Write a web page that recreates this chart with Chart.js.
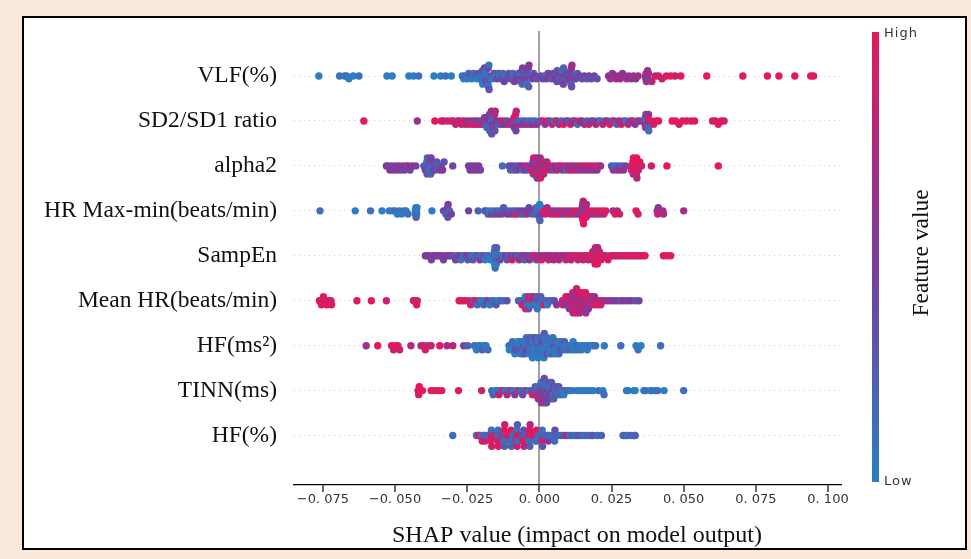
<!DOCTYPE html>
<html><head><meta charset="utf-8">
<script src="https://cdn.jsdelivr.net/npm/chart.js@4.4.1/dist/chart.umd.min.js"></script>
<style>html,body{margin:0;padding:0;background:#fbe9dc;}canvas{display:block;}</style>
</head><body>
<canvas id="c" width="971" height="559"></canvas>
<script>
// ---------- data ----------
const FEATURES = ['VLF(%)','SD2/SD1 ratio','alpha2','HR Max-min(beats/min)','SampEn','Mean HR(beats/min)','HF(ms²)','TINN(ms)','HF(%)'];
const X_TICKS = [-0.075,-0.05,-0.025,0,0.025,0.05,0.075,0.1];
const X_TICK_LABELS = ['\u22120. 075','\u22120. 050','\u22120. 025','0. 000','0. 025','0. 050','0. 075','0. 100'];
const X_TITLE = 'SHAP value (impact on model output)';
const CB_TITLE = 'Feature value';
const CB_HIGH = 'High', CB_LOW = 'Low';

// each point: [SHAP value, feature value level 0 (low) .. 9 (high)]
const VLF_PCT = [[-.0764,0],[-.0692,1],[-.0675,0],[-.0668,1],[-.0660,0],[-.0645,0],[-.0625,1],
[-.0528,0],[-.0510,0],[-.0452,0],[-.0436,0],[-.0418,1],[-.0365,0],[-.0342,0],[-.0325,1],[-.0305,0],
[-.0267,1],[-.0262,0],[-.0256,2],[-.0250,0],[-.0245,1],[-.0240,3],[-.0234,0],[-.0228,1],[-.0222,2],[-.0216,0],[-.0211,3],[-.0206,1],
[-.0200,0],[-.0199,2],[-.0198,1],[-.0197,3],[-.0196,0],[-.0190,4],[-.0189,1],[-.0188,2],[-.0187,0],[-.0186,3],[-.0185,1],
[-.0178,2],[-.0177,4],[-.0176,0],[-.0175,1],[-.0174,3],
[-.0166,2],[-.0162,1],[-.0157,3],[-.0152,0],[-.0147,4],[-.0142,2],[-.0137,1],[-.0132,3],[-.0127,2],[-.0122,4],[-.0117,1],
[-.0112,3],[-.0107,2],[-.0102,4],[-.0097,3],[-.0092,1],[-.0087,4],[-.0082,2],[-.0077,5],[-.0072,3],
[-.0068,2],[-.0067,4],[-.0066,1],[-.0065,3],[-.0060,5],[-.0059,2],[-.0058,4],[-.0052,3],[-.0051,5],[-.0050,2],[-.0049,4],
[-.0044,3],[-.0043,1],[-.0038,4],[-.0037,2],[-.0036,5],[-.0030,3],[-.0025,4],[-.0020,2],[-.0015,5],[-.0010,3],
[.0005,3],[.0012,4],[.0018,2],[.0024,4],[.0030,3],[.0036,5],[.0042,2],[.0048,4],[.0054,3],[.0055,5],[.0060,2],[.0061,4],[.0062,3],
[.0068,5],[.0069,2],[.0075,4],[.0076,3],[.0077,1],[.0083,4],[.0084,2],[.0090,5],[.0091,3],[.0097,4],
[.0105,2],[.0106,5],[.0107,3],[.0108,6],[.0109,4],[.0110,2],[.0111,5],[.0112,3],[.0113,6],
[.0120,3],[.0126,4],[.0132,2],[.0140,4],[.0148,3],[.0156,4],[.0164,2],[.0172,4],[.0180,3],[.0190,4],[.0200,3],
[.0240,5],[.0246,6],[.0253,5],[.0260,6],[.0266,6],[.0273,5],[.0280,6],[.0288,5],[.0295,6],[.0302,6],[.0310,5],[.0318,6],[.0326,6],[.0334,5],[.0342,6],
[.0368,6],[.0369,5],[.0370,7],[.0371,6],[.0375,5],[.0376,6],[.0377,4],[.0378,6],
[.0390,7],[.0402,8],[.0413,8],[.0425,8],[.0440,8],[.0455,9],[.0470,8],[.0490,9],
[.0580,9],[.0705,9],[.0790,9],[.0830,9],[.0885,9],[.0940,9],[.0950,9]];

const SD2_SD1 = [[-.0608,9],[-.0423,6],[-.0362,9],[-.0340,8],[-.0332,9],[-.0318,7],
[-.0305,9],[-.0298,8],[-.0290,7],[-.0283,9],[-.0276,6],[-.0270,8],[-.0263,9],[-.0256,7],[-.0250,5],[-.0243,8],[-.0237,6],[-.0230,9],
[-.0224,4],[-.0218,7],[-.0212,5],[-.0206,8],[-.0200,3],[-.0195,6],
[-.0190,4],[-.0189,7],[-.0184,2],[-.0183,5],[-.0182,1],[-.0177,6],[-.0176,3],[-.0175,5],[-.0174,1],[-.0173,4],[-.0172,2],
[-.0166,6],[-.0165,3],[-.0164,1],[-.0163,5],[-.0162,2],[-.0161,4],[-.0155,6],[-.0154,3],[-.0153,7],
[-.0147,5],[-.0141,2],[-.0135,6],[-.0129,4],[-.0123,8],[-.0117,5],[-.0111,3],[-.0105,7],
[-.0092,9],[-.0091,5],[-.0090,7],[-.0089,3],[-.0088,8],[-.0087,6],[-.0082,9],[-.0081,4],[-.0080,7],
[-.0074,2],[-.0068,6],[-.0062,1],[-.0056,5],[-.0050,3],[-.0044,7],[-.0038,1],[-.0032,4],[-.0026,2],[-.0020,6],[-.0014,1],[-.0008,5],
[.0004,2],[.0012,8],[.0020,5],[.0028,9],[.0036,3],[.0044,7],[.0052,1],[.0060,8],[.0068,6],[.0076,2],[.0084,9],[.0092,5],
[.0100,3],[.0108,8],[.0116,4],[.0124,7],[.0132,1],[.0140,8],[.0148,5],[.0156,6],[.0164,2],[.0172,8],[.0180,5],[.0188,3],
[.0196,7],[.0204,6],[.0212,1],[.0220,8],[.0228,4],[.0236,6],[.0244,9],[.0252,3],[.0260,7],[.0268,2],[.0276,5],[.0284,8],
[.0292,6],[.0300,1],[.0308,7],[.0316,4],[.0324,8],[.0332,5],[.0340,3],[.0348,6],
[.0365,2],[.0366,5],[.0367,1],[.0368,8],[.0369,3],[.0374,1],[.0375,4],[.0376,9],[.0377,2],[.0378,6],[.0379,1],
[.0388,9],[.0396,8],[.0405,9],[.0413,9],
[.0460,9],[.0472,9],[.0484,8],[.0496,9],[.0510,9],[.0525,8],[.0538,9],
[.0600,9],[.0610,8],[.0620,9],[.0630,9],[.0640,8]];

const ALPHA2 = [[-.0530,5],[-.0524,4],[-.0518,5],[-.0512,4],[-.0505,5],[-.0498,4],[-.0492,5],[-.0486,5],[-.0480,4],[-.0473,5],
[-.0467,4],[-.0460,5],[-.0455,5],[-.0448,4],[-.0440,5],[-.0428,4],
[-.0400,3],[-.0396,2],[-.0395,4],[-.0390,1],[-.0389,3],[-.0388,2],[-.0383,4],[-.0382,1],[-.0381,3],[-.0376,2],[-.0375,4],
[-.0374,1],[-.0369,3],[-.0368,5],[-.0362,2],[-.0361,4],[-.0355,3],[-.0350,2],[-.0345,4],[-.0340,3],[-.0335,5],[-.0330,3],
[-.0300,4],[-.0245,4],[-.0240,5],[-.0234,4],[-.0228,5],[-.0222,4],[-.0216,5],[-.0210,5],[-.0204,4],[-.0128,1],
[-.0105,3],[-.0100,2],[-.0094,4],[-.0088,2],[-.0082,3],[-.0076,4],[-.0070,3],
[-.0064,5],[-.0058,2],[-.0052,6],[-.0046,4],[-.0040,7],[-.0034,3],[-.0028,5],[-.0027,8],[-.0022,4],[-.0021,6],[-.0020,9],
[-.0016,5],[-.0015,7],[-.0014,3],[-.0010,8],[-.0009,6],[-.0008,4],[-.0004,9],[-.0003,5],[-.0002,7],[.0002,8],[.0003,6],
[.0004,9],[.0008,5],[.0009,7],[.0014,8],[.0015,6],[.0020,4],[.0021,9],
[.0026,6],[.0032,7],[.0038,5],[.0044,8],[.0050,3],[.0056,6],[.0062,7],[.0068,4],[.0074,8],[.0080,5],[.0086,7],[.0092,2],
[.0098,6],[.0104,7],[.0110,5],[.0116,8],[.0122,6],[.0128,7],[.0134,5],[.0140,6],[.0146,8],[.0152,4],[.0158,7],[.0164,6],
[.0170,8],[.0176,5],[.0182,7],[.0188,6],[.0194,8],[.0200,5],[.0206,7],[.0212,6],
[.0250,2],[.0256,5],[.0262,1],[.0268,6],[.0274,3],[.0280,5],[.0286,2],[.0292,6],[.0298,4],
[.0318,8],[.0319,9],[.0324,9],[.0325,7],[.0326,9],[.0330,8],[.0331,9],[.0332,9],[.0336,8],[.0337,9],[.0338,7],
[.0342,9],[.0343,8],[.0348,9],[.0354,8],[.0388,8],[.0442,9],[.0620,9]];

const HR_MAXMIN = [[-.0760,1],[-.0638,0],[-.0585,1],[-.0545,0],[-.0520,1],[-.0508,0],[-.0500,1],[-.0492,0],[-.0485,1],[-.0477,0],
[-.0470,1],[-.0462,0],[-.0455,1],
[-.0430,0],[-.0429,1],[-.0428,0],[-.0427,2],[-.0426,0],[-.0425,1],[-.0424,0],[-.0372,0],
[-.0332,3],[-.0325,4],[-.0324,2],[-.0318,5],[-.0317,3],[-.0316,4],[-.0311,2],[-.0305,4],[-.0245,4],[-.0212,2],
[-.0190,1],[-.0184,3],[-.0178,2],[-.0172,0],[-.0166,4],[-.0160,1],[-.0154,3],[-.0148,2],[-.0142,5],[-.0136,1],[-.0130,4],
[-.0124,2],[-.0118,3],[-.0112,5],[-.0106,2],[-.0100,4],[-.0094,3],[-.0088,6],[-.0082,2],[-.0078,9],[-.0072,4],[-.0066,3],
[-.0060,5],[-.0054,2],[-.0048,4],[-.0042,6],[-.0036,3],[-.0030,5],[-.0024,2],[-.0018,4],[-.0012,1],[-.0011,3],[-.0006,0],
[-.0005,2],[-.0004,1],[.0000,3],[.0001,0],[.0002,2],[.0006,1],[.0007,4],[.0008,0],
[.0015,9],[.0021,8],[.0027,6],[.0033,9],[.0039,7],[.0045,5],[.0051,8],[.0057,6],[.0063,9],[.0069,5],[.0075,7],[.0081,8],
[.0087,4],[.0093,6],[.0099,9],[.0105,5],[.0111,7],[.0117,8],[.0123,6],[.0129,9],[.0135,5],[.0141,7],
[.0147,4],[.0148,6],[.0149,9],[.0150,5],[.0151,8],[.0152,7],[.0153,9],[.0159,6],[.0160,8],[.0161,4],[.0162,9],[.0163,7],
[.0170,8],[.0176,7],[.0182,9],[.0188,6],[.0194,8],[.0200,7],[.0206,9],[.0212,6],[.0218,8],[.0224,7],[.0230,9],
[.0255,6],[.0262,9],[.0270,7],[.0278,8],[.0335,9],[.0342,8],
[.0408,6],[.0410,8],[.0412,5],[.0428,7],[.0430,6],[.0500,6]];

const SAMPEN = [[-.0395,5],[-.0388,4],[-.0381,5],[-.0374,4],[-.0367,5],[-.0360,4],[-.0353,5],[-.0346,4],[-.0339,5],[-.0332,4],
[-.0325,5],[-.0318,4],[-.0311,5],[-.0304,4],[-.0297,3],
[-.0290,4],[-.0284,2],[-.0278,5],[-.0272,1],[-.0266,3],[-.0260,0],[-.0254,4],[-.0248,2],[-.0242,5],[-.0236,1],[-.0230,3],
[-.0224,0],[-.0218,4],[-.0212,2],[-.0206,5],[-.0200,1],[-.0194,3],[-.0188,0],[-.0182,2],[-.0176,1],[-.0170,0],
[-.0158,2],[-.0157,0],[-.0156,1],[-.0155,0],[-.0154,2],[-.0153,1],[-.0152,0],[-.0151,3],[-.0150,1],[-.0149,0],[-.0148,2],
[-.0142,1],[-.0136,4],[-.0130,2],[-.0124,0],[-.0118,5],[-.0112,3],[-.0106,1],[-.0100,4],
[-.0094,9],[-.0088,3],[-.0082,5],[-.0076,2],[-.0070,6],[-.0064,3],[-.0058,5],[-.0052,2],[-.0046,6],[-.0040,4],[-.0034,5],
[-.0028,3],[-.0022,7],[-.0016,9],[-.0010,4],[-.0004,6],
[.0002,6],[.0008,9],[.0014,5],[.0020,7],[.0026,6],[.0032,8],[.0038,5],[.0044,7],[.0050,6],[.0056,8],[.0062,5],[.0068,7],
[.0074,6],[.0080,8],[.0086,5],[.0092,7],[.0098,6],[.0104,8],[.0110,7],[.0116,9],[.0122,6],[.0128,8],[.0134,7],[.0140,9],
[.0146,7],[.0152,8],[.0158,6],[.0164,9],[.0170,7],[.0176,8],
[.0183,9],[.0184,7],[.0185,8],[.0190,9],[.0191,6],[.0192,8],[.0193,9],[.0194,7],[.0198,9],[.0199,8],[.0200,6],[.0201,9],
[.0202,7],[.0206,8],[.0207,9],[.0208,7],[.0213,9],[.0214,8],
[.0222,9],[.0230,7],[.0238,9],[.0246,8],[.0254,9],[.0262,7],[.0270,9],[.0278,8],[.0286,9],[.0294,7],[.0302,9],[.0310,8],
[.0318,9],[.0326,8],[.0334,9],[.0342,7],[.0350,9],[.0358,8],[.0366,9],
[.0430,8],[.0442,9],[.0455,9]];

const MEAN_HR = [[-.0762,9],[-.0756,8],[-.0755,9],[-.0748,9],[-.0742,8],[-.0736,9],[-.0730,9],[-.0722,8],[-.0720,9],
[-.0632,9],[-.0582,9],[-.0530,8],[-.0436,9],[-.0434,8],[-.0425,9],[-.0423,8],
[-.0278,9],[-.0268,8],[-.0258,9],[-.0245,9],[-.0238,8],[-.0230,2],[-.0222,9],[-.0215,1],[-.0208,3],[-.0200,0],[-.0193,2],
[-.0186,1],[-.0180,4],[-.0172,0],[-.0165,2],[-.0158,1],[-.0150,3],[-.0142,0],[-.0135,2],[-.0125,1],[-.0112,3],
[-.0072,3],[-.0066,1],[-.0060,9],[-.0055,2],[-.0054,8],[-.0049,0],[-.0048,9],[-.0043,2],[-.0042,1],[-.0038,8],[-.0037,3],
[-.0032,9],[-.0031,0],[-.0026,2],[-.0025,8],[-.0020,1],[-.0019,9],[-.0014,3],[-.0013,0],[-.0008,2],[-.0007,1],[-.0002,3],
[.0004,0],[.0005,2],[.0010,1],[.0016,9],[.0022,2],[.0028,0],[.0036,2],[.0044,1],[.0052,3],[.0060,5],
[.0080,6],[.0081,8],[.0090,7],[.0091,5],[.0092,9],
[.0101,8],[.0102,6],[.0103,7],[.0104,5],[.0112,6],[.0113,8],[.0114,5],[.0115,7],[.0116,9],[.0117,6],
[.0123,8],[.0124,7],[.0125,5],[.0126,8],[.0127,6],[.0128,9],[.0129,7],[.0134,7],[.0135,5],[.0136,8],[.0137,6],[.0138,9],[.0139,7],
[.0145,6],[.0146,8],[.0147,5],[.0148,7],[.0149,9],[.0156,6],[.0157,8],[.0158,7],[.0159,5],[.0160,9],[.0161,6],
[.0167,7],[.0168,6],[.0169,8],[.0170,5],[.0178,8],[.0179,6],[.0180,7],[.0189,5],[.0190,8],[.0191,6],
[.0200,7],[.0201,9],[.0212,6],[.0213,8],[.0224,7],
[.0235,5],[.0246,6],[.0257,4],[.0268,5],[.0280,3],[.0292,5],[.0305,4],[.0318,5],[.0332,3],[.0345,4]];

const HF_MS2 = [[-.0600,6],[-.0560,9],[-.0512,9],[-.0505,8],[-.0498,9],[-.0490,9],[-.0484,8],
[-.0445,7],[-.0410,6],[-.0400,8],[-.0395,9],[-.0385,7],[-.0375,8],[-.0345,9],[-.0320,6],[-.0300,7],[-.0262,4],[-.0248,2],
[-.0225,1],[-.0218,0],[-.0212,1],[-.0205,0],[-.0198,2],[-.0192,1],[-.0185,0],[-.0178,1],
[-.0105,1],[-.0104,0],[-.0095,2],[-.0094,0],[-.0093,1],[-.0085,0],[-.0084,1],[-.0083,3],
[-.0075,0],[-.0074,1],[-.0073,2],[-.0072,0],[-.0065,1],[-.0064,0],[-.0063,2],[-.0062,1],
[-.0055,0],[-.0054,3],[-.0053,1],[-.0052,0],[-.0051,2],[-.0045,1],[-.0044,0],[-.0043,4],[-.0042,1],
[-.0035,0],[-.0034,2],[-.0033,1],[-.0032,0],[-.0031,3],[-.0030,1],
[-.0025,1],[-.0024,0],[-.0023,2],[-.0022,1],[-.0021,0],[-.0015,0],[-.0014,4],[-.0013,1],[-.0012,0],[-.0011,2],[-.0010,1],
[-.0005,1],[-.0004,0],[-.0003,3],[-.0002,1],[-.0001,0],[.0005,0],[.0006,2],[.0007,1],[.0008,0],[.0009,4],[.0010,1],
[.0015,1],[.0016,0],[.0017,2],[.0018,1],[.0019,0],[.0025,0],[.0026,3],[.0027,1],[.0028,0],
[.0035,2],[.0036,1],[.0037,0],[.0038,1],[.0039,0],[.0045,0],[.0046,2],[.0047,1],[.0048,3],
[.0055,0],[.0056,1],[.0057,0],[.0065,2],[.0066,1],[.0067,0],[.0068,1],[.0075,0],[.0076,3],[.0077,1],[.0085,0],[.0086,1],[.0087,2],
[.0095,0],[.0096,1],[.0105,1],[.0106,2],[.0115,0],[.0116,1],[.0117,0],
[.0125,1],[.0126,0],[.0135,2],[.0136,1],[.0145,0],[.0146,1],[.0155,0],[.0165,1],[.0166,0],[.0175,1],[.0185,0],[.0195,1],
[.0225,0],[.0282,1],[.0335,0],[.0342,1],[.0352,0],[.0420,1]];

const TINN_MS = [[-.0420,9],[-.0418,8],[-.0416,9],[-.0414,9],[-.0405,9],[-.0375,9],[-.0362,8],[-.0350,9],[-.0338,9],
[-.0280,9],[-.0200,8],
[-.0165,1],[-.0160,2],[-.0152,0],[-.0145,1],[-.0140,8],[-.0132,2],[-.0125,9],[-.0118,1],[-.0112,6],[-.0105,2],[-.0098,8],
[-.0092,1],[-.0085,5],[-.0078,2],[-.0070,9],[-.0064,1],[-.0058,3],[-.0050,2],[-.0044,7],[-.0038,1],
[-.0025,3],[-.0024,9],[-.0016,2],[-.0015,7],[-.0014,3],[-.0007,2],[-.0006,8],[-.0005,1],[-.0004,4],
[.0002,3],[.0003,5],[.0004,2],[.0005,8],[.0006,1],[.0007,4],[.0011,6],[.0012,3],[.0013,2],[.0014,5],[.0015,1],[.0016,7],[.0017,4],
[.0020,3],[.0021,4],[.0022,2],[.0023,6],[.0024,1],[.0025,3],[.0029,5],[.0030,2],[.0031,1],[.0032,4],[.0033,3],
[.0038,2],[.0039,6],[.0040,1],[.0041,3],[.0042,2],[.0047,4],[.0048,1],[.0049,3],[.0050,2],
[.0056,1],[.0057,3],[.0058,2],[.0065,2],[.0066,1],[.0067,3],[.0075,1],[.0076,2],[.0084,1],[.0085,0],[.0094,2],[.0103,1],[.0112,0],
[.0128,1],[.0140,0],[.0152,1],[.0162,0],[.0175,1],[.0186,0],[.0205,1],[.0220,0],[.0224,1],
[.0302,1],[.0308,0],[.0328,1],[.0332,0],[.0362,0],[.0368,1],[.0385,0],[.0390,1],[.0402,0],[.0410,1],[.0432,0],[.0500,1]];

const HF_PCT = [[-.0300,1],[-.0218,1],[-.0210,8],[-.0208,9],[-.0200,1],[-.0198,8],
[-.0190,9],[-.0189,1],[-.0188,8],[-.0179,1],
[-.0168,8],[-.0167,9],[-.0166,1],[-.0165,8],[-.0157,8],
[-.0146,9],[-.0145,2],[-.0144,8],[-.0143,1],[-.0142,9],[-.0135,2],
[-.0124,8],[-.0123,1],[-.0122,9],[-.0121,2],[-.0120,8],[-.0119,1],[-.0113,9],
[-.0102,9],[-.0101,3],[-.0100,8],[-.0099,1],[-.0098,9],[-.0097,2],[-.0091,1],
[-.0080,2],[-.0079,9],[-.0078,1],[-.0077,8],[-.0076,2],[-.0075,9],[-.0074,1],[-.0069,8],
[-.0058,1],[-.0057,8],[-.0056,2],[-.0055,9],[-.0054,3],[-.0053,8],[-.0047,2],
[-.0036,8],[-.0035,1],[-.0034,9],[-.0033,2],[-.0032,7],[-.0025,9],
[-.0014,9],[-.0013,2],[-.0012,8],[-.0011,1],[-.0010,9],[-.0003,1],
[.0008,2],[.0009,8],[.0010,1],[.0011,3],[.0020,2],[.0030,1],[.0031,5],[.0032,2],[.0042,1],
[.0052,2],[.0053,1],[.0054,3],[.0065,2],[.0075,1],[.0085,3],[.0095,7],[.0105,1],[.0115,2],[.0125,1],[.0135,3],
[.0145,2],[.0155,1],[.0165,2],[.0175,1],[.0185,3],[.0200,1],[.0215,2],
[.0290,1],[.0298,2],[.0305,1],[.0318,2],[.0328,1],[.0332,2]];

const ROWS = [VLF_PCT, SD2_SD1, ALPHA2, HR_MAXMIN, SAMPEN, MEAN_HR, HF_MS2, TINN_MS, HF_PCT];

// ---------- styling helpers ----------
const C_LOW=[43,126,196], C_MID=[124,58,158], C_HIGH=[228,24,92];
function col(t){
  let a,b,u;
  if(t<0.5){a=C_LOW;b=C_MID;u=t/0.5;} else {a=C_MID;b=C_HIGH;u=(t-0.5)/0.5;}
  return 'rgb('+a.map((v,k)=>Math.round(v+(b[k]-v)*u)).join(',')+')';
}
// SHAP-style beeswarm offsets (deterministic)
function swarm(vals){
  const N=vals.length, nb=100;
  const mn=Math.min(...vals), mx=Math.max(...vals);
  const q=vals.map(v=>Math.round(nb*(v-mn)/(mx-mn+1e-8)));
  const idx=[...Array(N).keys()].sort((a,b)=>(q[a]-q[b])||(a-b));
  const ys=new Array(N).fill(0);
  let layer=0,last=-1;
  for(const i of idx){
    if(q[i]!==last) layer=0;
    ys[i]=Math.ceil(layer/2)*((layer%2)*2-1);
    layer++; last=q[i];
  }
  const m=Math.max(...ys)+1;
  return ys.map(y=>y*0.9*(0.4/m));
}

const datasets = ROWS.map((r,i)=>{
  const off = swarm(r.map(p=>p[0]));
  return {
    data: r.map((p,j)=>({x:p[0], y:i+off[j]})),
    pointBackgroundColor: r.map(p=>col(p[1]/9)),
    pointBorderWidth:0, pointRadius:3.7, pointHoverRadius:3.7
  };
});

const frame = {
  id:'frame',
  beforeDraw(chart){
    const c=chart.ctx;
    c.save();
    c.fillStyle='#fbe9dc'; c.fillRect(0,0,chart.width,chart.height);
    c.fillStyle='#ffffff'; c.fillRect(23,17,943,532);
    c.strokeStyle='#000'; c.lineWidth=2; c.strokeRect(23,17,943,532);
    c.restore();
  }
};
const annotations = {
  id:'annotations',
  afterDraw(chart){
    const c=chart.ctx;
    const x0=872, w=7, y0=32, y1=482;
    c.save();
    const g=c.createLinearGradient(0,y0,0,y1);
    for(let k=0;k<=10;k++){ g.addColorStop(k/10, col(1-k/10)); }
    c.fillStyle=g; c.fillRect(x0,y0,w,y1-y0);
    c.fillStyle='#333'; c.font='13px "DejaVu Sans"'; c.textBaseline='middle'; c.textAlign='left';
    try{ c.letterSpacing='1px'; }catch(e){}
    c.fillText(CB_HIGH, x0+w+5, 34);
    c.fillText(CB_LOW, x0+w+5, 482);
    try{ c.letterSpacing='0px'; }catch(e){}
    // x-axis title
    c.fillStyle='#111'; c.font='24px "Liberation Serif"'; c.textAlign='center';
    c.fillText(X_TITLE, 577, 536);
    // colorbar title
    c.translate(922,253); c.rotate(-Math.PI/2);
    c.font='23.5px "Liberation Serif"';
    c.fillText(CB_TITLE,0,0);
    c.restore();
  }
};

new Chart(document.getElementById('c'), {
  type:'scatter',
  data:{datasets},
  options:{
    responsive:false, animation:false, events:[],
    layout:{padding:{left:0,right:130,top:30,bottom:10}},
    plugins:{legend:{display:false}, tooltip:{enabled:false}},
    scales:{
      x:{
        type:'linear', min:-0.085, max:0.1045,
        afterBuildTicks:s=>{s.ticks=X_TICKS.map(v=>({value:v}));},
        ticks:{callback:(v,i)=>X_TICK_LABELS[i], font:{family:'DejaVu Sans',size:13}, color:'#333', padding:0, maxRotation:0, autoSkip:false},
        grid:{color:c=>(c.tick && c.tick.value===0)?'#a0a0a0':'rgba(0,0,0,0)', lineWidth:2, tickColor:'#000', tickLength:7, tickWidth:1.2},
        border:{display:true,color:'#000',width:1.2},
        afterFit:s=>{s.height=64;}
      },
      y:{
        type:'linear', reverse:true, min:-1, max:9.1,
        afterBuildTicks:s=>{s.ticks=FEATURES.map((f,i)=>({value:i}));},
        ticks:{callback:v=>FEATURES[v], font:{family:'Liberation Serif',size:23.5}, color:'#111', padding:17, autoSkip:false},
        grid:{color:'#cfcfcf', lineWidth:1, drawTicks:false},
        border:{display:false, dash:[1,4]},
        afterFit:s=>{s.width=294;}
      }
    }
  },
  plugins:[frame, annotations]
});
</script>
</body></html>
